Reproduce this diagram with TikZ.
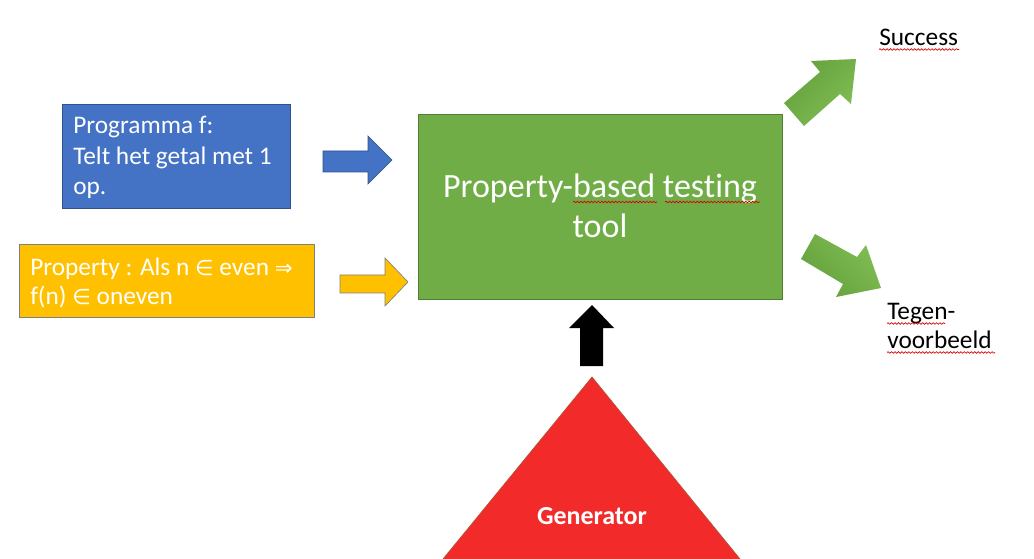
\documentclass[tikz,border=0pt]{standalone}
\usepackage{fontspec}
\setmainfont{Carlito}[Ligatures=NoCommon]
\newfontfamily\symfont{DejaVu Sans}
\usetikzlibrary{decorations.pathmorphing}
\definecolor{pblue}{RGB}{68,114,196}
\definecolor{pblueb}{RGB}{47,82,143}
\definecolor{pyellow}{RGB}{255,192,0}
\definecolor{pgreen}{RGB}{112,173,71}
\definecolor{pgreenb}{RGB}{80,126,50}
\definecolor{pgreenl}{RGB}{130,190,85}
\definecolor{pgreend}{RGB}{100,160,60}
\definecolor{pred}{RGB}{242,42,42}
\definecolor{predb}{RGB}{170,90,60}
\newcommand{\elem}{{\symfont\fontsize{16}{20}\selectfont ∈}}
\newcommand{\impl}{{\symfont\fontsize{16}{20}\selectfont ⇒}}
\tikzset{
  box/.style={draw, line width=0.75pt},
  txt/.style={inner sep=0pt, text=white, font=\fontsize{19}{23}\selectfont, anchor=base west},
  bigtxt/.style={inner sep=0pt, text=white, font=\fontsize{25.5}{30}\selectfont, anchor=base},
  blacktxt/.style={inner sep=0pt, text=black, font=\fontsize{19}{23}\selectfont, anchor=base west},
  squig/.style={draw=red!85!black, line width=0.5pt, decorate, decoration={snake, amplitude=0.6pt, segment length=2.6pt}},
  blockarrow/.style={line width=0.5pt},
}
\begin{document}
\begin{tikzpicture}[x=0.75pt,y=-0.75pt]
\useasboundingbox (0,0) rectangle (1034,559);
% boxes
\draw[box, fill=pblue, draw=pblueb] (62,105) rectangle (290,209);
\node[txt] (prog1) at (73,134) {Programma f:};
\node[txt] (prog2) at (73,165) {Telt het getal met 1};
\node[txt] (prog3) at (73,195) {op.};
\draw[box, fill=pyellow, draw=gray] (19,245) rectangle (314,318);
\node[txt] (prop1) at (30,276) {Property : Als n \elem{} even \impl};
\node[txt] (prop2) at (30,305) {f(n) \elem{} oneven};
\draw[box, fill=pgreen, draw=pgreenb] (418,115) rectangle (782,300);
\node[bigtxt] (tool1) at (600,198) {Property-based testing};
\node[bigtxt] (tool2) at (600,238) {tool};
% input arrows
\draw[blockarrow, fill=pblue, draw=pblueb] (323,151) -- (368,151) -- (368,136) -- (392,160) -- (368,184) -- (368,172) -- (323,172) -- cycle;
\draw[blockarrow, fill=pyellow, draw=gray] (340,275) -- (385,275) -- (385,258) -- (408,282) -- (385,306) -- (385,293) -- (340,293) -- cycle;
% output arrows
\shade[left color=pgreend, right color=pgreenl, shading angle=45] (784,103) -- (820,72) -- (811,61) -- (856,59) -- (851,104) -- (840,94) -- (804,126) -- cycle;
\shade[left color=pgreend, right color=pgreenl, shading angle=135] (815,234) -- (857,257) -- (866,245) -- (881,288) -- (836,297) -- (843,284) -- (801,259) -- cycle;
\node[blacktxt] (succ) at (879,46) {Success};
\node[blacktxt] (tegen1) at (887,320) {Tegen-};
\node[blacktxt] (tegen2) at (887,349) {voorbeeld};
% generator
\fill[black] (592,305) -- (614,328) -- (603,328) -- (603,366) -- (580,366) -- (580,328) -- (569,328) -- cycle;
\draw[fill=pred, draw=predb, line width=0.5pt] (592,377) -- (740,559) -- (443,559) -- cycle;
\node[inner sep=0pt, text=white, font=\bfseries\fontsize{19.5}{23}\selectfont, anchor=base] (gen) at (592,524) {Generator};
% spell-check squiggles
\draw[squig] (879,49.5) -- (959,49.5);
\draw[squig] (887,323.5) -- (945,323.5);
\draw[squig] (887,352.5) -- (995,352.5);
\draw[squig] (573,202) -- (657,202);
\draw[squig] (665,202) -- (760,202);
\end{tikzpicture}
\end{document}
